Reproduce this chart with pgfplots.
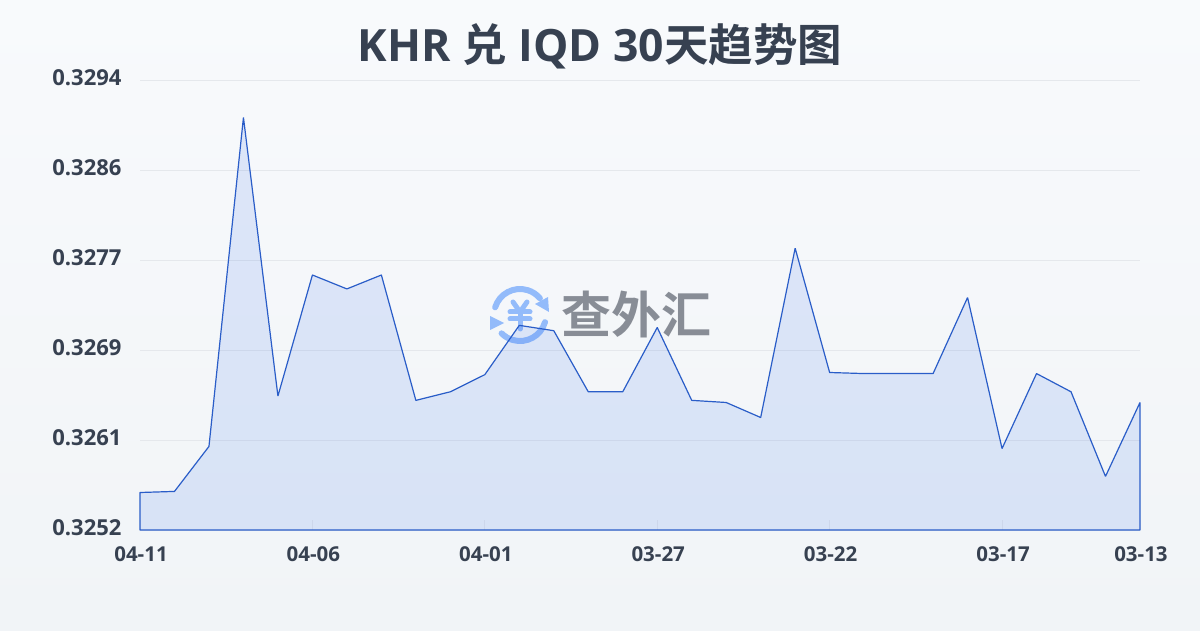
\documentclass[border=0pt]{standalone}
\usepackage{fontspec}
\usepackage{pgfplots}
\pgfplotsset{compat=1.18}
\setmainfont{Open Sans}
\newfontfamily\cjk{Noto Sans CJK SC}[BoldFont={Noto Sans CJK SC Bold}]
\definecolor{bgtop}{HTML}{F8FAFC}
\definecolor{bgbot}{HTML}{F1F4F7}
\definecolor{ink}{HTML}{374151}
\definecolor{linec}{HTML}{2A5DC8}
\definecolor{fillc}{HTML}{2F6BEB}
\definecolor{gridc}{HTML}{E5E8EC}
\definecolor{wmblue}{HTML}{93BBFA}
\definecolor{wmgray}{HTML}{888D96}
\begin{document}
\begin{tikzpicture}
\path[use as bounding box] (0pt,0pt) rectangle (1200pt,630pt);
\shade[top color=bgtop,bottom color=bgbot] (0pt,0pt) rectangle (1200pt,630pt);
% watermark
\begin{scope}[shift={(520pt,315pt)}]
\draw[wmblue,line width=6pt,line cap=round] (163:26pt) arc (163:40:26pt);
\draw[wmblue,line width=6pt,line cap=round] (-16:26pt) arc (-16:-135:26pt);
\fill[wmblue] (29pt,3pt) -- (28pt,18pt) -- (15pt,11pt) -- cycle;
\fill[wmblue] (-30pt,-1pt) -- (-30pt,-15pt) -- (-16pt,-8pt) -- cycle;
\draw[wmblue,line width=5pt,line cap=round,line join=round] (-7pt,13pt) -- (0pt,3pt) -- (7pt,13pt);
\draw[wmblue,line width=5pt,line cap=round] (-10pt,3pt) -- (10pt,3pt);
\draw[wmblue,line width=5pt,line cap=round] (-10pt,-4pt) -- (10pt,-4pt);
\draw[wmblue,line width=5pt,line cap=round] (0pt,3pt) -- (0pt,-14pt);
\end{scope}
\node[wmgray,font=\cjk\bfseries\fontsize{50}{50}\selectfont,anchor=center] at (636pt,315pt) {查外汇};
\node[ink,font=\bfseries\fontsize{44.5}{44.5}\selectfont] at (600pt,584pt) {KHR {\cjk 兑} IQD 30{\cjk 天趋势图}};
\begin{axis}[
at={(140pt,100pt)},
anchor=south west,
scale only axis,
width=1000pt,
height=450pt,
clip=false,
xmin=0,xmax=29,
ymin=0.3252,ymax=0.3294,
axis line style={draw=none},
tick pos=bottom,
xtick={0,5,10,15,20,25,29},
xticklabels={04-11,04-06,04-01,03-27,03-22,03-17,03-13},
ytick={0.3252,0.32604,0.32688,0.32772,0.32856,0.3294},
yticklabels={0.3252,0.3261,0.3269,0.3277,0.3286,0.3294},
ymajorgrids,
grid style={gridc,line width=0.8pt},
major tick length=10pt,
tick style={gridc,line width=0.8pt},
ytick style={draw=none},
tick label style={text=ink,font=\bfseries\fontsize{22}{22}\selectfont},
xticklabel style={font=\bfseries\fontsize{20.5}{20.5}\selectfont,yshift=-13pt,xshift=1pt},
yticklabel style={xshift=-15pt,yshift=2pt},
]
\addplot[draw=linec,line width=1.2pt,fill=fillc,fill opacity=0.13,line join=bevel] coordinates {
(0,0.32555) (1,0.32556) (2,0.32598) (3,0.32905) (4,0.32645) (5,0.32758)
(6,0.32745) (7,0.32758) (8,0.32641) (9,0.32649) (10,0.32665) (11,0.32711)
(12,0.32706) (13,0.32649) (14,0.32649) (15,0.32709) (16,0.32641) (17,0.32639)
(18,0.32625) (19,0.32783) (20,0.32667) (21,0.32666) (22,0.32666) (23,0.32666)
(24,0.32737) (25,0.32596) (26,0.32666) (27,0.32649) (28,0.32570) (29,0.32639)
} \closedcycle;
\end{axis}
\end{tikzpicture}
\end{document}
